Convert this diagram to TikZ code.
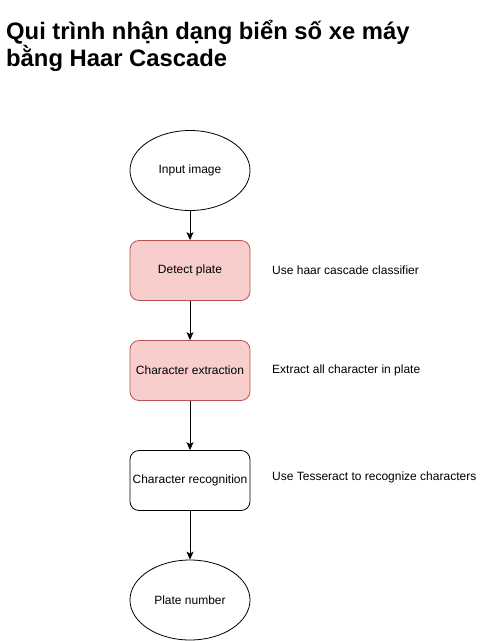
\documentclass[tikz,border=0pt]{standalone}
\usepackage{fontspec}
\setmainfont{Liberation Sans}
\usetikzlibrary{shapes.geometric,arrows.meta}
\definecolor{redfill}{HTML}{F8CECC}
\definecolor{redline}{HTML}{B85450}
\begin{document}
\begin{tikzpicture}[x=1pt,y=-1pt,
  txt/.style={font=\fontsize{12}{14}\selectfont},
  oval/.style={ellipse,draw=black,line width=0.8pt,minimum width=120pt,minimum height=80pt,inner sep=0pt,txt},
  procbox/.style={rectangle,rounded corners=9pt,draw=black,line width=0.8pt,minimum width=120pt,minimum height=60pt,inner sep=0pt,txt},
  redbox/.style={procbox,draw=redline,fill=redfill},
  note/.style={anchor=west,inner sep=0pt,txt},
  conn/.style={-{Stealth[length=8pt,width=7pt,inset=2pt]},line width=0.8pt},
  ttl/.style={anchor=base west,inner sep=0pt,font=\fontsize{23.8}{27}\selectfont\bfseries}]
\useasboundingbox (0,0) rectangle (491,641);
\node[ttl] (t1) at (6,39) {Qui trình nhận dạng biển số xe máy};
\node[ttl] (t2) at (6,66) {bằng Haar Cascade};
\node[oval] (in) at (190,170.5) {Input image};
\node[redbox] (det) at (190,270.5) {Detect plate};
\node[redbox] (ext) at (190,370.5) {Character extraction};
\node[procbox] (rec) at (190,480.5) {Character recognition};
\node[oval] (out) at (190,600) {Plate number};
\node[note] (n1) at (272,270.5) {Use haar cascade classifier};
\node[note] (n2) at (272,370.5) {Extract all character in plate};
\node[note] (n3) at (272,477.5) {Use Tesseract to recognize characters};
\draw[conn] (in) -- (det);
\draw[conn] (det) -- (ext);
\draw[conn] (ext) -- (rec);
\draw[conn] (rec) -- (out);
\end{tikzpicture}
\end{document}
